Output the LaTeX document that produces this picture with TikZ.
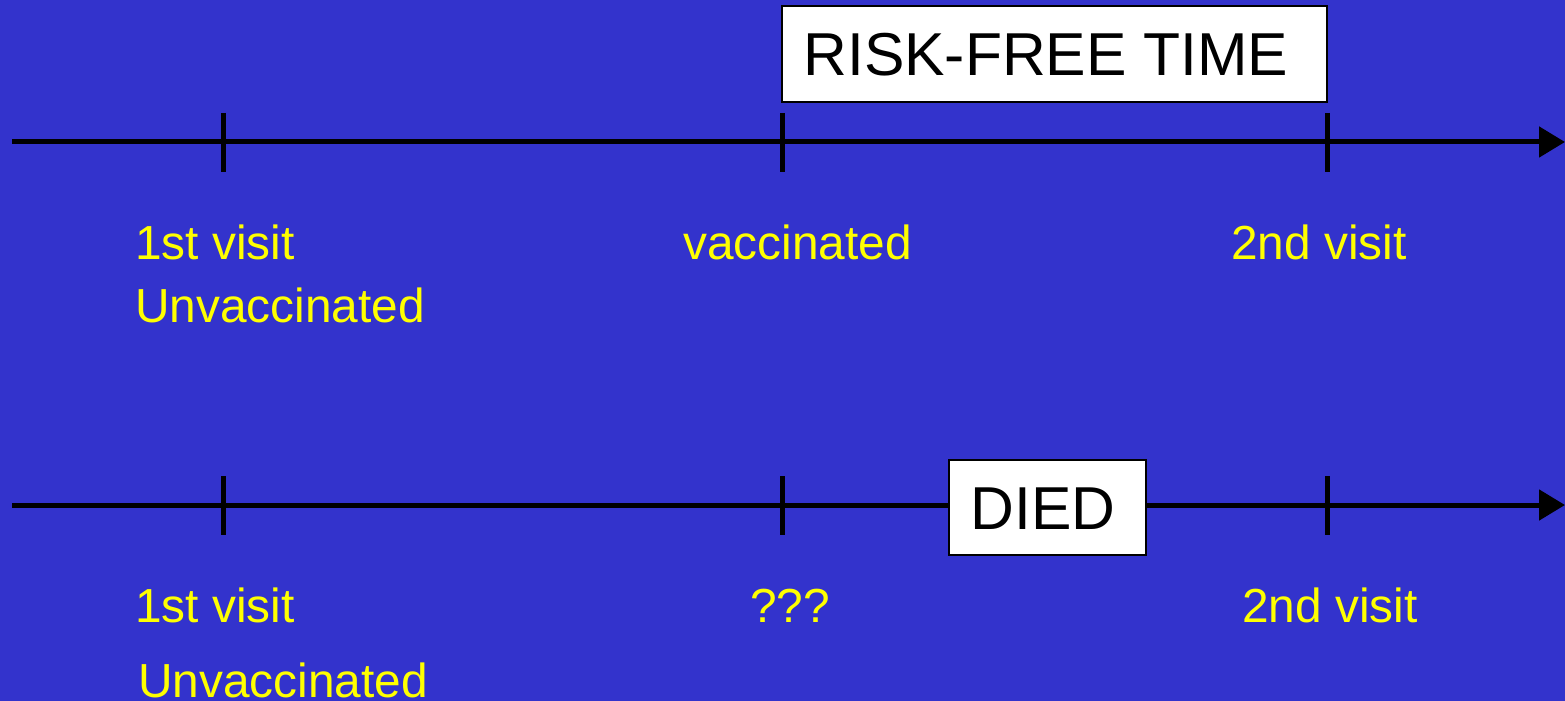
\documentclass[tikz,border=0pt]{standalone}
\usepackage{fontspec}
\setmainfont{Liberation Sans}
\usetikzlibrary{arrows.meta}
\definecolor{bgblue}{HTML}{3333CC}
\definecolor{lblyellow}{HTML}{FFFF00}
\begin{document}
\begin{tikzpicture}[x=0.5pt,y=-0.5pt,
  axisline/.style={line width=2.5pt, -{Triangle[length=13pt,width=15pt]}},
  tickline/.style={line width=2.5pt},
  lbl/.style={anchor=base west, inner sep=0pt, text=lblyellow, font=\fontsize{23.9}{28}\selectfont},
  boxframe/.style={draw=black, line width=0.75pt, fill=white, inner sep=0pt},
  boxtext/.style={anchor=base west, inner sep=0pt, text=black, font=\fontsize{30.3}{36}\selectfont}]
\fill[bgblue] (0,0) rectangle (1565,701);
\useasboundingbox (0,0) rectangle (1565,701);
% row 1
\coordinate (s1) at (12,142);
\coordinate (e1) at (1565,142);
\draw[axisline] (s1) -- (e1);
\foreach \x/\n in {223/a,782/b,1327/c}{
  \coordinate (t1\n top) at (\x,113);
  \coordinate (t1\n bot) at (\x,172);
  \draw[tickline] (t1\n top) -- (t1\n bot);
}
\node[boxframe, minimum width=272.5pt, minimum height=48pt] (rfbox) at (1054.5,54) {};
\node[boxtext] (rftext) at (803,76) {RISK-FREE TIME};
\node[lbl] (v1a) at (135,259) {1st visit};
\node[lbl] (u1a) at (135,322) {Unvaccinated};
\node[lbl] (vac) at (683,259) {vaccinated};
\node[lbl] (v2a) at (1231,259) {2nd visit};
% row 2
\coordinate (s2) at (12,505);
\coordinate (e2) at (1565,505);
\draw[axisline] (s2) -- (e2);
\foreach \x/\n in {223/a,782/b,1327/c}{
  \coordinate (t2\n top) at (\x,476);
  \coordinate (t2\n bot) at (\x,535);
  \draw[tickline] (t2\n top) -- (t2\n bot);
}
\node[boxframe, minimum width=98.5pt, minimum height=47.5pt] (diedbox) at (1047.5,507.5) {};
\node[boxtext] (diedtext) at (970,529) {DIED};
\node[lbl] (v1b) at (135,622) {1st visit};
\node[lbl] (u1b) at (138,697) {Unvaccinated};
\node[lbl] (qqq) at (750,622) {???};
\node[lbl] (v2b) at (1242,622) {2nd visit};
\end{tikzpicture}
\end{document}
